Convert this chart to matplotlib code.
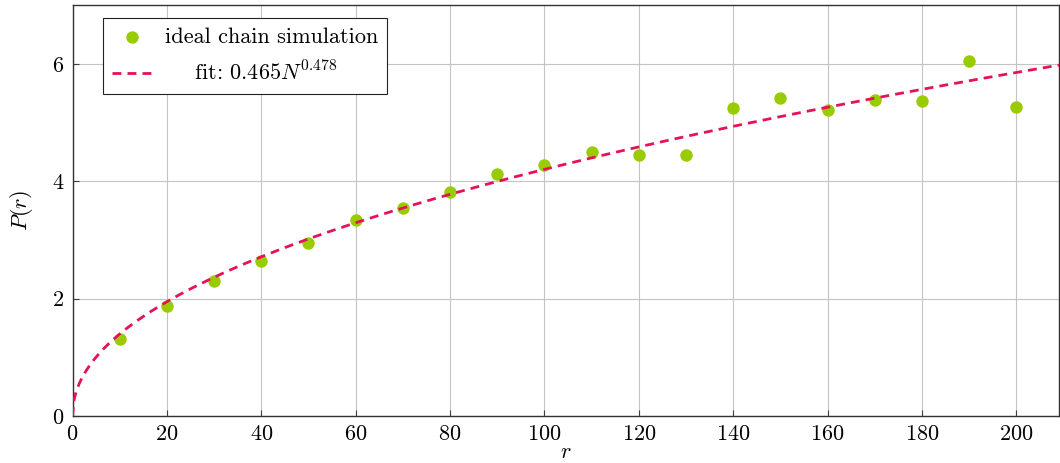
import numpy as np
import matplotlib
matplotlib.use("Agg")
import matplotlib.pyplot as plt

plt.rcParams['font.family'] = ['serif']
plt.rcParams['font.serif'] = ['cmr10', 'DejaVu Serif']
plt.rcParams['mathtext.fontset'] = 'cm'
plt.rcParams['axes.formatter.use_mathtext'] = True

r_values = [10, 20, 30, 40, 50, 60, 70, 80, 90, 100,
            110, 120, 130, 140, 150, 160, 170, 180, 190, 200]
p_values = [1.31, 1.87, 2.30, 2.64, 2.94, 3.34, 3.55, 3.81, 4.12, 4.28,
            4.49, 4.45, 4.45, 5.25, 5.42, 5.22, 5.39, 5.37, 6.05, 5.26]
fit_coef = 0.465
fit_exp = 0.478
x_ticks = [0, 20, 40, 60, 80, 100, 120, 140, 160, 180, 200]
y_ticks = [0, 2, 4, 6]

fig = plt.figure(figsize=(10.6, 4.63), dpi=100)
ax = fig.add_axes([0.0684, 0.1015, 0.9306, 0.8875])

xf = np.linspace(0, 209, 600)
yf = fit_coef * xf ** fit_exp

ax.scatter(r_values, p_values, s=80, color='#99cc00', zorder=3,
           label='ideal chain simulation', linewidths=0)
ax.plot(xf, yf, color='#e6115a', lw=2.0, dashes=(3.2, 2.2), zorder=4,
        label='    fit: ' + r'$0.465N^{0.478}$')

ax.set_xlim(0, 209)
ax.set_ylim(0, 7)
ax.set_xticks(x_ticks)
ax.set_yticks(y_ticks)
ax.grid(True, color='#c4c4c4', lw=0.8)
ax.set_axisbelow(True)
ax.tick_params(direction='in', length=4, labelsize=16, color='#404040', pad=6)
for s in ax.spines.values():
    s.set_color('#333333')
    s.set_linewidth(1.0)

ax.set_xlabel(r'$r$', fontsize=16, labelpad=-1)
ax.set_ylabel(r'$P(r)$', fontsize=16, labelpad=12)

leg = ax.legend(loc='upper left', bbox_to_anchor=(0.0309, 0.968), fontsize=16,
                borderaxespad=0, frameon=True, fancybox=False, edgecolor='#222222',
                handlelength=1.76, borderpad=0.42, labelspacing=0.62,
                handletextpad=0.6, markerscale=1.0, framealpha=1)
leg.get_frame().set_linewidth(0.8)

fig.savefig('out.png', dpi=100)
